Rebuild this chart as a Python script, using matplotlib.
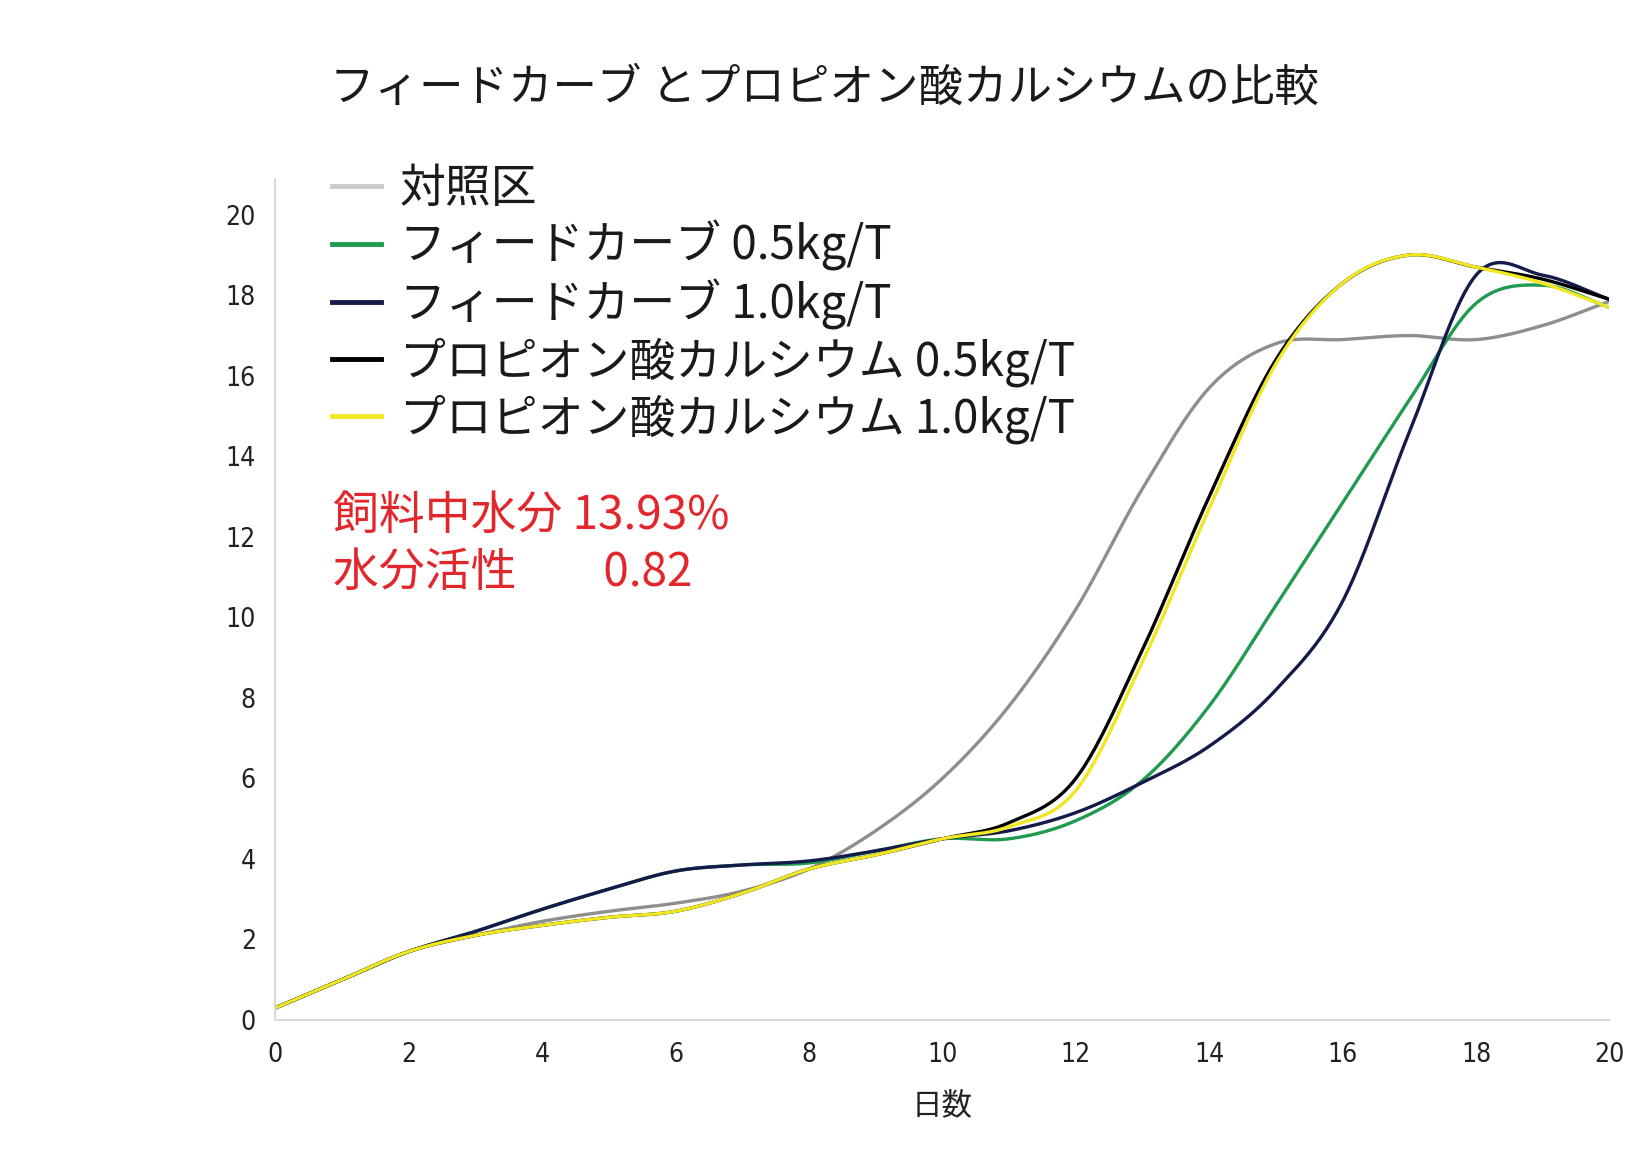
import numpy as np
import matplotlib
matplotlib.use("Agg")
import matplotlib.pyplot as plt
from matplotlib.lines import Line2D

plt.rcParams['font.family'] = ['Noto Sans CJK JP', 'DejaVu Sans']

# days and readings
days = list(range(0, 21))
control = [0.3, 1.0, 1.7, 2.1, 2.45, 2.7, 2.9, 3.2, 3.75, 4.7, 6.0, 7.8, 10.2,
           13.2, 15.7, 16.8, 16.9, 17.0, 16.9, 17.25, 17.85]
feed_05 = [0.3, 1.0, 1.7, 2.2, 2.75, 3.25, 3.7, 3.85, 3.9, 4.2, 4.5, 4.5, 4.95,
           5.95, 7.8, 10.3, 12.85, 15.4, 17.8, 18.25, 17.7]
feed_10 = [0.3, 1.0, 1.7, 2.2, 2.75, 3.25, 3.7, 3.85, 3.95, 4.2, 4.5, 4.7, 5.15,
           5.9, 6.8, 8.2, 10.4, 14.6, 18.5, 18.5, 17.9]
prop_05 = [0.3, 1.0, 1.7, 2.1, 2.35, 2.55, 2.7, 3.15, 3.75, 4.1, 4.5, 4.9, 6.0,
           9.2, 13.0, 16.4, 18.3, 19.0, 18.7, 18.4, 17.9]
prop_10 = [0.3, 1.0, 1.7, 2.1, 2.35, 2.55, 2.7, 3.15, 3.75, 4.1, 4.5, 4.8, 5.7,
           8.9, 12.7, 16.3, 18.3, 19.0, 18.7, 18.3, 17.7]

labels = ['対照区', 'フィードカーブ 0.5kg/T', 'フィードカーブ 1.0kg/T',
          'プロピオン酸カルシウム 0.5kg/T', 'プロピオン酸カルシウム 1.0kg/T']
series = [control, feed_05, feed_10, prop_05, prop_10]
line_colors = ['#8e8e8e', '#1f9a4f', '#141a4a', '#000000', '#f0e722']
legend_colors = ['#cccccc', '#1f9a4f', '#141a4a', '#000000', '#f0e722']


def smooth(x, y, n=24):
    # catmull-rom, like excel's smoothed line
    x = np.asarray(x, float)
    y = np.asarray(y, float)
    px = np.concatenate([[2 * x[0] - x[1]], x, [2 * x[-1] - x[-2]]])
    py = np.concatenate([[2 * y[0] - y[1]], y, [2 * y[-1] - y[-2]]])
    t = np.linspace(0, 1, n, endpoint=False)
    xs, ys = [], []
    for i in range(1, len(px) - 2):
        for p, out in ((px, xs), (py, ys)):
            p0, p1, p2, p3 = p[i - 1], p[i], p[i + 1], p[i + 2]
            out.append(0.5 * (2 * p1 + (-p0 + p2) * t
                              + (2 * p0 - 5 * p1 + 4 * p2 - p3) * t ** 2
                              + (-p0 + 3 * p1 - 3 * p2 + p3) * t ** 3))
    xs.append([x[-1]])
    ys.append([y[-1]])
    return np.concatenate(xs), np.concatenate(ys)


fig = plt.figure(figsize=(16.49, 11.67), dpi=100)
ax = fig.add_axes([0.167, 0.126, 0.809, 0.721])

for vals, c in zip(series, line_colors):
    sx, sy = smooth(days, vals)
    ax.plot(sx, sy, color=c, lw=2.4, solid_capstyle='round')

ax.set_xlim(0, 20)
ax.set_ylim(0, 20.9)
ax.set_xticks(range(0, 21, 2))
ax.set_yticks(range(0, 21, 2))
for s in ['top', 'right']:
    ax.spines[s].set_visible(False)
for s in ['left', 'bottom']:
    ax.spines[s].set_color('#d9d9d9')
    ax.spines[s].set_linewidth(1.5)
ax.tick_params(length=0, labelsize=19, colors='#222222')
ax.tick_params(axis='y', pad=14)
ax.tick_params(axis='x', pad=16)
for lab in ax.get_xticklabels() + ax.get_yticklabels():
    lab.set_family('DejaVu Sans')
    lab.set_stretch('condensed')

ax.set_xlabel('日数', fontsize=22, color='#222222', labelpad=16)

fig.text(0.5, 0.925, 'フィードカーブ とプロピオン酸カルシウムの比較',
         fontsize=32, ha='center', va='center', color='#1a1a1a')

handles = [Line2D([], [], color=c, lw=3.5) for c in legend_colors]
fig.legend(handles, labels, loc='upper left', bbox_to_anchor=(0.2013, 0.859),
           frameon=False, fontsize=33, handlelength=1.06, handletextpad=0.42,
           labelspacing=0.16, labelcolor='#1a1a1a', borderpad=0,
           borderaxespad=0)

ax.text(0.043, 0.565, '飼料中水分 13.93%\n水分活性\u3000    0.82',
        transform=ax.transAxes, fontsize=33, color='#e3262b',
        va='center', ha='left', linespacing=1.23)

fig.savefig('out.png', dpi=100)
